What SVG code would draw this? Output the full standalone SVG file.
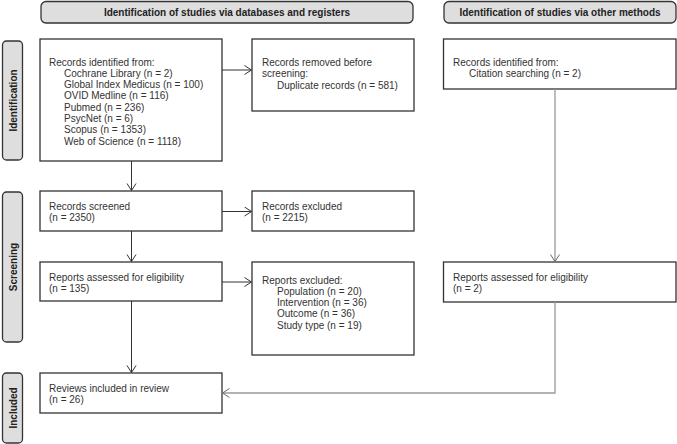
<svg xmlns="http://www.w3.org/2000/svg" width="677" height="444" viewBox="0 0 677 444">
<style>
text{font-family:"Liberation Sans",Arial,sans-serif;font-size:10px;fill:#333}
.b{font-weight:bold;fill:#222}
.box{fill:#fff;stroke:#333;stroke-width:1.3}
.hdr{fill:#dedede;stroke:#333;stroke-width:1.3}
.c{fill:none;stroke:#333;stroke-width:1}
.g{fill:none;stroke:#999;stroke-width:1.3}
</style>
<defs>
<marker id="a" markerUnits="userSpaceOnUse" markerWidth="12" markerHeight="12" refX="8" refY="5" orient="auto" viewBox="0 0 12 12">
<path d="M1,0.5 L8,5 L1,9.5" fill="none" stroke="#333" stroke-width="1"/>
</marker>
<marker id="ag" markerUnits="userSpaceOnUse" markerWidth="12" markerHeight="12" refX="8" refY="5" orient="auto" viewBox="0 0 12 12">
<path d="M1,0.5 L8,5 L1,9.5" fill="none" stroke="#666" stroke-width="1"/>
</marker>
</defs>
<g id="header-db"><rect class="hdr" x="41" y="1.5" width="372" height="21.5" rx="5"/><text class="b" x="227" y="16" text-anchor="middle">Identification of studies via databases and registers</text></g>
<g id="header-other"><rect class="hdr" x="444" y="1.5" width="232" height="21.5" rx="5"/><text class="b" x="560" y="16" text-anchor="middle">Identification of studies via other methods</text></g>
<g id="side-identification"><rect class="hdr" x="2.5" y="41" width="20" height="119" rx="4"/><text class="b" transform="translate(16.5,100.5) rotate(-90)" text-anchor="middle">Identification</text></g>
<g id="side-screening"><rect class="hdr" x="2.5" y="192" width="20" height="150" rx="4"/><text class="b" transform="translate(16.5,267) rotate(-90)" text-anchor="middle">Screening</text></g>
<g id="side-included"><rect class="hdr" x="2.5" y="373" width="20" height="70" rx="4"/><text class="b" transform="translate(16.5,408) rotate(-90)" text-anchor="middle">Included</text></g>
<g id="records-identified"><rect class="box" x="40" y="39" width="182" height="122"/>
<text x="49" y="65.5">Records identified from:</text>
<text x="64" y="76.8">Cochrane Library (n = 2)</text>
<text x="64" y="88.1">Global Index Medicus (n = 100)</text>
<text x="64" y="99.4">OVID Medline (n = 116)</text>
<text x="64" y="110.7">Pubmed (n = 236)</text>
<text x="64" y="122">PsycNet (n = 6)</text>
<text x="64" y="133.3">Scopus (n = 1353)</text>
<text x="64" y="144.6">Web of Science (n = 1118)</text></g>
<g id="records-removed"><rect class="box" x="252" y="39" width="162" height="72"/>
<text x="262" y="66">Records removed before</text>
<text x="262" y="77.3">screening:</text>
<text x="277" y="88.6">Duplicate records (n = 581)</text></g>
<g id="other-records"><rect class="box" x="443.5" y="39" width="232.5" height="50"/>
<text x="453" y="66">Records identified from:</text>
<text x="469" y="77.3">Citation searching (n = 2)</text></g>
<g id="records-screened"><rect class="box" x="40" y="191" width="182" height="40"/>
<text x="49" y="209.5">Records screened</text>
<text x="49" y="220.5">(n = 2350)</text></g>
<g id="records-excluded"><rect class="box" x="252" y="191" width="162" height="40"/>
<text x="262" y="209.5">Records excluded</text>
<text x="262" y="220.5">(n = 2215)</text></g>
<g id="reports-assessed"><rect class="box" x="40" y="262" width="182" height="39"/>
<text x="49" y="280.5">Reports assessed for eligibility</text>
<text x="49" y="291.5">(n = 135)</text></g>
<g id="reports-excluded"><rect class="box" x="252" y="262" width="162" height="93"/>
<text x="262" y="283.5">Reports excluded:</text>
<text x="277" y="294.8">Population (n = 20)</text>
<text x="277" y="306.1">Intervention (n = 36)</text>
<text x="277" y="317.4">Outcome (n = 36)</text>
<text x="277" y="328.7">Study type (n = 19)</text></g>
<g id="other-reports-assessed"><rect class="box" x="443.5" y="262" width="232.5" height="40"/>
<text x="453" y="281">Reports assessed for eligibility</text>
<text x="453" y="292">(n = 2)</text></g>
<g id="reviews-included"><rect class="box" x="40" y="373" width="182" height="40"/>
<text x="49" y="391.5">Reviews included in review</text>
<text x="49" y="402.5">(n = 26)</text></g>
<g id="connectors">
<line class="c" x1="222" y1="70" x2="251.5" y2="70" marker-end="url(#a)"/>
<line class="c" x1="131.5" y1="161" x2="131.5" y2="190.5" marker-end="url(#a)"/>
<line class="c" x1="222" y1="211.5" x2="251.5" y2="211.5" marker-end="url(#a)"/>
<line class="c" x1="131.5" y1="231" x2="131.5" y2="261.5" marker-end="url(#a)"/>
<line class="c" x1="222" y1="282" x2="251.5" y2="282" marker-end="url(#a)"/>
<line class="c" x1="131.5" y1="301" x2="131.5" y2="372.5" marker-end="url(#a)"/>
<line class="g" x1="555" y1="89" x2="555" y2="261.5" marker-end="url(#ag)"/>
<polyline class="g" points="555,302 555,393 222.5,393" marker-end="url(#ag)"/>
</g>
</svg>
